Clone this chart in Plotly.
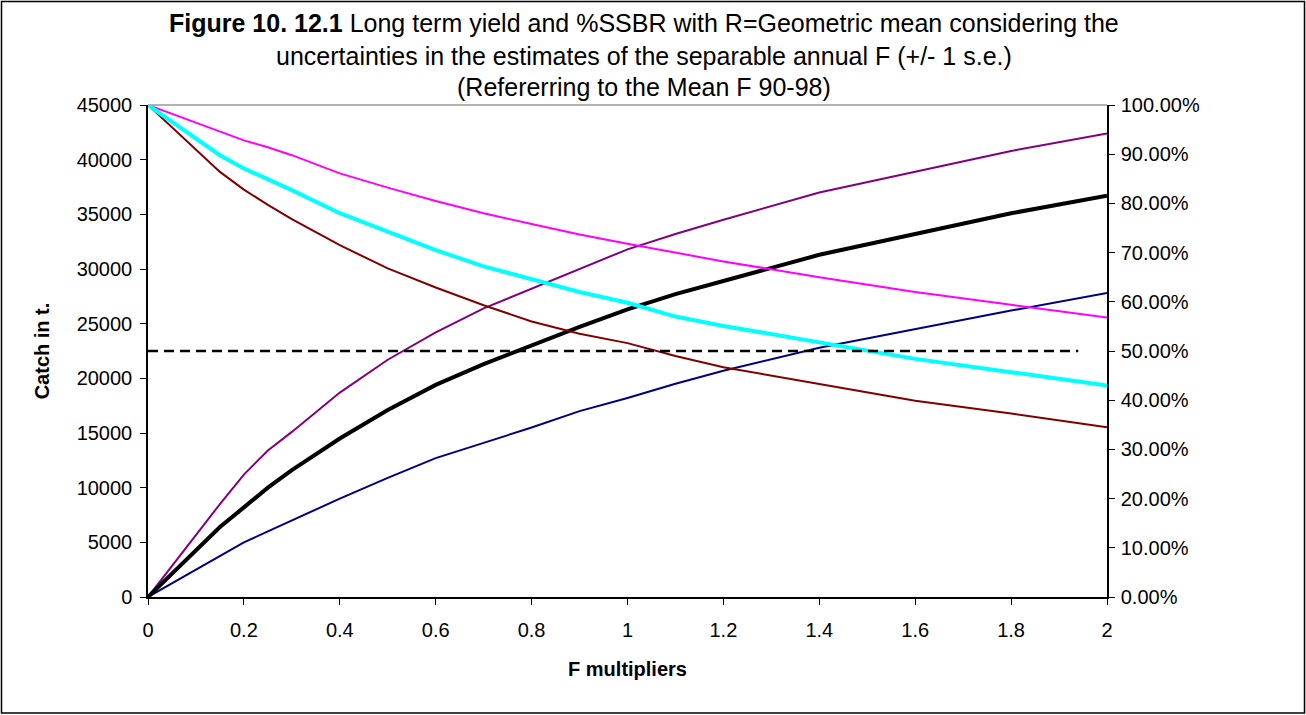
import plotly.graph_objects as go

# F multipliers
f_mult = [0, 0.15, 0.2, 0.25, 0.3, 0.4, 0.5, 0.6, 0.7, 0.8, 0.9, 1.0, 1.1, 1.2, 1.4, 1.6, 1.8, 2.0]

# Long term yield (t) - left axis
yield_mean = [0, 6400, 8200, 10000, 11600, 14500, 17100, 19400, 21300, 23000, 24700, 26300, 27700, 28900, 31300, 33200, 35100, 36700]
yield_upper = [0, 8500, 11200, 13400, 15100, 18700, 21700, 24200, 26400, 28200, 30000, 31800, 33200, 34500, 37000, 38900, 40800, 42400]
yield_lower = [0, 3800, 5000, 6000, 7000, 9000, 10900, 12700, 14100, 15500, 17000, 18200, 19500, 20700, 22800, 24500, 26200, 27800]

# %SSBR - right axis
ssbr_mean = [100, 89.8, 87.1, 85.0, 82.7, 78.0, 74.2, 70.5, 67.2, 64.5, 62.0, 59.8, 57.0, 55.1, 51.7, 48.4, 45.7, 43.0]
ssbr_upper = [100, 94.5, 92.8, 91.4, 89.8, 86.1, 83.2, 80.5, 78.0, 75.8, 73.7, 71.8, 70.0, 68.2, 65.0, 62.0, 59.4, 56.8]
ssbr_lower = [100, 86.4, 82.8, 79.7, 76.8, 71.5, 66.8, 62.9, 59.3, 56.0, 53.5, 51.6, 49.0, 46.7, 43.3, 39.9, 37.3, 34.5]

# 50% reference
ref_x = [0, 1.94]
ref_y = [50, 50]

y_ticks = list(range(0, 45001, 5000))
x_ticks = [0, 0.2, 0.4, 0.6, 0.8, 1, 1.2, 1.4, 1.6, 1.8, 2]

fig = go.Figure()
fig.add_trace(go.Scatter(x=f_mult, y=ssbr_upper, yaxis="y2", mode="lines", line=dict(color="#FF00FF", width=2)))
fig.add_trace(go.Scatter(x=f_mult, y=ssbr_lower, yaxis="y2", mode="lines", line=dict(color="#800000", width=2)))
fig.add_trace(go.Scatter(x=f_mult, y=ssbr_mean, yaxis="y2", mode="lines", line=dict(color="#00FFFF", width=4)))
fig.add_trace(go.Scatter(x=f_mult, y=yield_upper, mode="lines", line=dict(color="#800080", width=2)))
fig.add_trace(go.Scatter(x=f_mult, y=yield_lower, mode="lines", line=dict(color="#000080", width=2)))
fig.add_trace(go.Scatter(x=f_mult, y=yield_mean, mode="lines", line=dict(color="#000000", width=4)))
fig.add_trace(go.Scatter(x=ref_x, y=ref_y, yaxis="y2", mode="lines",
                         line=dict(color="#000000", width=2.5, dash="10px,6px")))

W, H = 1306, 715
ml, mr, mt, mb = 148, 199, 105, 118
pw, ph = W - ml - mr, H - mt - mb

def px(xp):
    return (xp - ml) / pw

def py(yp):
    return (H - mb - yp) / ph

font_main = "Liberation Sans, Arial, sans-serif"

fig.update_layout(
    width=W, height=H,
    margin=dict(l=ml, r=mr, t=mt, b=mb, autoexpand=False),
    paper_bgcolor="white", plot_bgcolor="white",
    showlegend=False,
    font=dict(family=font_main, color="black", size=20),
    xaxis=dict(range=[0, 2], tickvals=x_ticks, ticktext=[str(v) for v in x_ticks],
               showgrid=False, zeroline=False, showline=True, linecolor="black", linewidth=1.5,
               ticks="outside", ticklen=6, tickcolor="black", ticklabelstandoff=8,
               tickfont=dict(family=font_main, size=20),
               title=dict(text="<b>F multipliers</b>", font=dict(size=20), standoff=22)),
    yaxis=dict(range=[0, 45000], tickvals=y_ticks, ticktext=[str(v) for v in y_ticks],
               showgrid=False, zeroline=False, showline=True, linecolor="black", linewidth=1.5,
               ticks="outside", ticklen=6, tickcolor="black", ticklabelstandoff=4,
               tickfont=dict(family=font_main, size=20),
               title=dict(text="<b>Catch in t.</b>", font=dict(size=20), standoff=22)),
    yaxis2=dict(range=[0, 100], overlaying="y", side="right", dtick=10, tickformat=".2f", ticksuffix="%",
                showgrid=False, zeroline=False, showline=True, linecolor="black", linewidth=1.5,
                ticks="outside", ticklen=6, tickcolor="black", ticklabelstandoff=2,
                tickfont=dict(family=font_main, size=20)),
    shapes=[
        dict(type="line", xref="paper", yref="paper", x0=0, x1=1, y0=1, y1=1,
             line=dict(color="#999999", width=1.5), layer="below"),
        dict(type="rect", xref="paper", yref="paper", x0=px(1.5), x1=px(1304.5), y0=py(1.5), y1=py(713),
             line=dict(color="black", width=1.5)),
    ],
    annotations=[
        dict(text="<b>Figure 10. 12.1</b> Long term yield and %SSBR with R=Geometric mean considering the",
             xref="paper", yref="paper", x=px(644), y=py(23), showarrow=False,
             xanchor="center", yanchor="middle", font=dict(family=font_main, size=25)),
        dict(text="uncertainties in the estimates of the separable annual F (+/- 1 s.e.)",
             xref="paper", yref="paper", x=px(644), y=py(56), showarrow=False,
             xanchor="center", yanchor="middle", font=dict(family=font_main, size=25)),
        dict(text="(Refererring to the Mean F 90-98)",
             xref="paper", yref="paper", x=px(644), y=py(87), showarrow=False,
             xanchor="center", yanchor="middle", font=dict(family=font_main, size=25)),
    ],
)

fig.write_html("out.html", config={"displayModeBar": False},
               post_script="document.body.style.margin='0px';document.body.style.padding='0px';")
